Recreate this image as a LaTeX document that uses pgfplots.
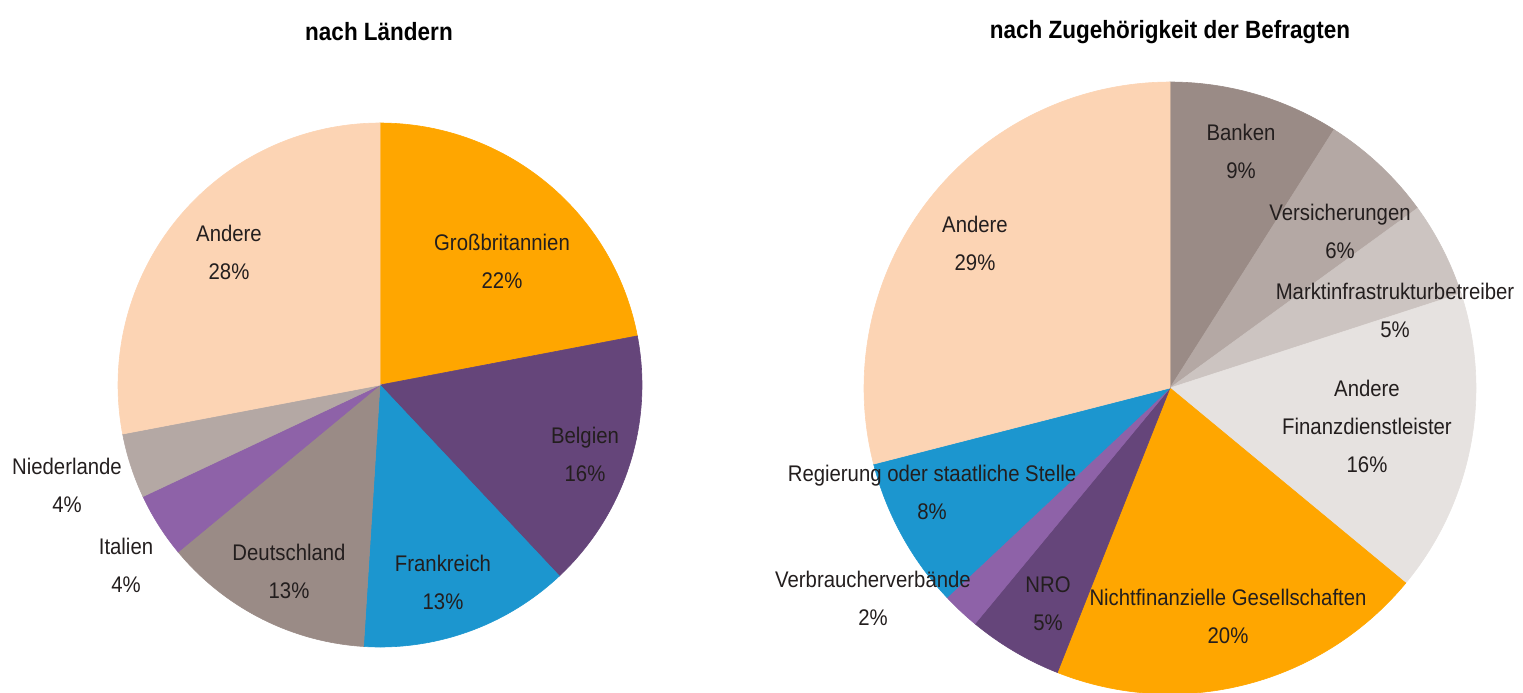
\documentclass[border=0pt]{standalone}
\usepackage{fontspec}
\setmainfont{Liberation Sans}[FakeStretch=0.9]
\usepackage{pgfplots}
\pgfplotsset{compat=1.18}
\definecolor{cOrange}{RGB}{255,166,0}
\definecolor{cDPurple}{RGB}{101,69,122}
\definecolor{cBlue}{RGB}{28,150,207}
\definecolor{cGrey1}{RGB}{154,139,134}
\definecolor{cPurple}{RGB}{142,98,168}
\definecolor{cGrey2}{RGB}{180,168,164}
\definecolor{cGrey3}{RGB}{204,196,193}
\definecolor{cGrey4}{RGB}{230,226,224}
\definecolor{cPeach}{RGB}{252,212,180}
\definecolor{txt}{RGB}{35,30,30}
% slice: centre x, centre y, radius, cumulative start (%), share (%), colour
\newcommand{\slice}[6]{%
  \pgfmathsetmacro\sa{90-3.6*(#4+#5)}%
  \pgfmathsetmacro\sb{90-3.6*(#4)}%
  \edef\temp{\noexpand\addplot[fill=#6, draw=#6, line width=0.3pt, domain=\sa:\sb, samples=100] ({#1+#3*cos(x)},{#2-#3*sin(x)}) -- (axis cs:#1,#2) -- cycle;}%
  \temp
}
\newcommand{\lbl}[1]{{\fontsize{11.3}{19}\selectfont\color{txt}\setlength{\tabcolsep}{0pt}\renewcommand{\arraystretch}{1}\begin{tabular}{c}#1\end{tabular}}}
\begin{document}
\begin{tikzpicture}
\begin{axis}[x=0.5pt, y=0.5pt, xmin=0, xmax=1523, ymin=0, ymax=692, y dir=reverse,
  hide axis, clip=true]
% left pie: nach Ländern
\slice{380}{385}{262}{0}{22}{cOrange}
\slice{380}{385}{262}{22}{16}{cDPurple}
\slice{380}{385}{262}{38}{13}{cBlue}
\slice{380}{385}{262}{51}{13}{cGrey1}
\slice{380}{385}{262}{64}{4}{cPurple}
\slice{380}{385}{262}{68}{4}{cGrey2}
\slice{380}{385}{262}{72}{28}{cPeach}
% right pie: nach Zugehörigkeit
\slice{1170}{388}{306}{0}{9}{cGrey1}
\slice{1170}{388}{306}{9}{6}{cGrey2}
\slice{1170}{388}{306}{15}{5}{cGrey3}
\slice{1170}{388}{306}{20}{16}{cGrey4}
\slice{1170}{388}{306}{36}{20}{cOrange}
\slice{1170}{388}{306}{56}{5}{cDPurple}
\slice{1170}{388}{306}{61}{2}{cPurple}
\slice{1170}{388}{306}{63}{8}{cBlue}
\slice{1170}{388}{306}{71}{29}{cPeach}
% titles
\node[inner sep=0pt, font=\bfseries\fontsize{12.5}{14}\selectfont, text=black] at (axis cs:379,32) {nach Ländern};
\node[inner sep=0pt, font=\bfseries\fontsize{12.5}{14}\selectfont, text=black] at (axis cs:1170,32) {nach Zugehörigkeit der Befragten};
% left labels
\node[inner sep=0pt] at (axis cs:229,253) {\lbl{Andere\\28\%}};
\node[inner sep=0pt] at (axis cs:502,262) {\lbl{Großbritannien\\22\%}};
\node[inner sep=0pt] at (axis cs:585,455) {\lbl{Belgien\\16\%}};
\node[inner sep=0pt] at (axis cs:443,583) {\lbl{Frankreich\\13\%}};
\node[inner sep=0pt] at (axis cs:289,572) {\lbl{Deutschland\\13\%}};
\node[inner sep=0pt] at (axis cs:126,566) {\lbl{Italien\\4\%}};
\node[inner sep=0pt] at (axis cs:67,486) {\lbl{Niederlande\\4\%}};
% right labels
\node[inner sep=0pt] at (axis cs:975,244) {\lbl{Andere\\29\%}};
\node[inner sep=0pt] at (axis cs:1241,152) {\lbl{Banken\\9\%}};
\node[inner sep=0pt] at (axis cs:1340,232) {\lbl{Versicherungen\\6\%}};
\node[inner sep=0pt] at (axis cs:1395,311) {\lbl{Marktinfrastrukturbetreiber\\5\%}};
\node[inner sep=0pt] at (axis cs:1367,427) {\lbl{Andere\\Finanzdienstleister\\16\%}};
\node[inner sep=0pt] at (axis cs:932,493) {\lbl{Regierung oder staatliche Stelle\\8\%}};
\node[inner sep=0pt] at (axis cs:873,599) {\lbl{Verbraucherverbände\\2\%}};
\node[inner sep=0pt] at (axis cs:1048,604) {\lbl{NRO\\5\%}};
\node[inner sep=0pt] at (axis cs:1228,617) {\lbl{Nichtfinanzielle Gesellschaften\\20\%}};
\end{axis}
\pgfresetboundingbox
\path (current axis.south west) rectangle (current axis.north east);
\end{tikzpicture}
\end{document}
